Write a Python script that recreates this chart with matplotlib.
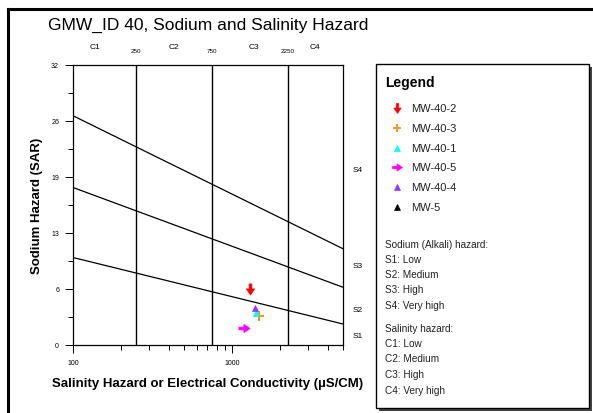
import numpy as np
import matplotlib
matplotlib.use("Agg")
import matplotlib.pyplot as plt
from matplotlib.path import Path
from matplotlib.markers import MarkerStyle
from matplotlib.transforms import Affine2D
from matplotlib.lines import Line2D
from matplotlib.patches import Rectangle

plt.rcParams['font.family'] = ['Liberation Sans', 'DejaVu Sans']

# hazard boundary lines (EC at ends, SAR at ends)
line_ec = [100, 5000]
s12_sar = [10.0, 2.4]
s23_sar = [18.0, 6.6]
s34_sar = [26.2, 11.0]

# salinity class boundaries
ec_bounds = [250, 750, 2250]
c_labels = ["C1", "C2", "C3", "C4"]
c_label_x = [138, 430, 1377, 3350]
s_labels = ["S1", "S2", "S3", "S4"]
s_label_y = [1.06, 4.03, 9.14, 20.0]

# samples
wells = ["MW-40-2", "MW-40-3", "MW-40-1", "MW-40-5", "MW-40-4", "MW-5"]
ec = [1300, 1490, 1410, 1186, 1400, np.nan]
sar = [6.4, 3.3, 3.7, 1.9, 4.2, np.nan]
colors = ["#ff0000", "#ff8c1a", "#00ffff", "#ff00ff", "#9933ff", "#000000"]

yticks = [0, 6.4, 12.8, 19.2, 25.6, 32]
ytick_labels = ["0", "6", "13", "19", "26", "32"]

hazard_text = ["Sodium (Alkali) hazard:", "S1: Low", "S2: Medium", "S3: High", "S4: Very high",
               "Salinity hazard:", "C1: Low", "C2: Medium", "C3: High", "C4: Very high"]

# custom arrow markers
arrow = Path([(-0.25, 1), (0.25, 1), (0.25, 0.1), (0.75, 0.1), (0, -1), (-0.75, 0.1), (-0.25, 0.1), (-0.25, 1)],
             [Path.MOVETO] + [Path.LINETO] * 6 + [Path.CLOSEPOLY])
down_arrow = MarkerStyle(arrow)
right_arrow = MarkerStyle(arrow, transform=Affine2D().rotate_deg(90))
markers = [down_arrow, "+", "^", right_arrow, "^", "^"]
msizes = [8, 7, 5, 8, 5, 6]

W, H = 593, 414
fig = plt.figure(figsize=(W / 100, H / 100), dpi=100)

def fx(px):
    return px / W

def fy(py):
    return 1 - py / H

# outer frame
fig.add_artist(Line2D([fx(8), fx(8)], [fy(10), 0], color="black", lw=2.2))
fig.add_artist(Line2D([fx(8), 1], [fy(10), fy(10)], color="black", lw=2.2))

fig.text(fx(48), fy(25), "GMW_ID 40, Sodium and Salinity Hazard", fontsize=12.5, va="center", ha="left")

ax = fig.add_axes([fx(73), fy(346), fx(343) - fx(73), fy(66) - fy(346)])
ax.set_xscale("log")
ax.set_xlim(100, 5000)
ax.set_ylim(0, 32)

ax.plot(line_ec, s12_sar, color="black", lw=0.9)
ax.plot(line_ec, s23_sar, color="black", lw=0.9)
ax.plot(line_ec, s34_sar, color="black", lw=0.9)
for b in ec_bounds:
    ax.axvline(b, color="black", lw=1.0)
    ax.text(b, 1.05, str(b), transform=ax.get_xaxis_transform(), fontsize=4.5, ha="center", va="center")
for lab, x in zip(c_labels, c_label_x):
    ax.text(x, 1.065, lab, transform=ax.get_xaxis_transform(), fontsize=6, ha="center", va="center")
for lab, y in zip(s_labels, s_label_y):
    ax.text(1.035, y, lab, transform=ax.get_yaxis_transform(), fontsize=6, ha="left", va="center", clip_on=False)

for i in range(len(wells)):
    ax.plot(ec[i], sar[i], linestyle="none", marker=markers[i], color=colors[i], ms=msizes[i], mew=1.5 if markers[i] == "+" else 0.5)

ax.set_yticks(yticks)
ax.set_yticklabels(ytick_labels)
ax.set_yticks(np.arange(3.2, 32, 6.4), minor=True)
ax.set_xticks([100, 1000])
ax.set_xticklabels(["100", "1000"])
ax.xaxis.set_minor_formatter(plt.NullFormatter())
ax.tick_params(which="major", length=6, width=0.7, labelsize=5, pad=4)
ax.tick_params(which="minor", length=3.5, width=0.7)
for sp in ax.spines.values():
    sp.set_linewidth(0.9)

ax.set_xlabel("Salinity Hazard or Electrical Conductivity (µS/CM)", fontsize=9.5, fontweight="bold", labelpad=8)
ax.set_ylabel("Sodium Hazard (SAR)", fontsize=9.5, fontweight="bold", labelpad=6)

# legend box with shadow
lx0, ly0, lx1, ly1 = 376, 65, 589, 409
fig.add_artist(Rectangle((fx(lx0 + 3), fy(ly1 + 3)), fx(lx1 - lx0), fy(ly0) - fy(ly1),
                         facecolor="#444444", edgecolor="none"))
fig.add_artist(Rectangle((fx(lx0), fy(ly1)), fx(lx1 - lx0), fy(ly0) - fy(ly1),
                         facecolor="white", edgecolor="black", lw=1.0))

fig.text(fx(385), fy(83), "Legend", fontsize=10, fontweight="bold", va="center", ha="left")
for i, w in enumerate(wells):
    y = 109.3 + i * 19.7
    fig.add_artist(Line2D([fx(397)], [fy(y)], linestyle="none", marker=markers[i], color=colors[i],
                          ms=msizes[i] - 1, mew=1.3 if markers[i] == "+" else 0.5))
    fig.text(fx(411), fy(y), w, fontsize=8, va="center", ha="left", color="#222222")

haz_y = [245, 260, 275, 290, 306, 329, 344, 359, 375, 391]
for t, y in zip(hazard_text, haz_y):
    fig.text(fx(385), fy(y), t, fontsize=7.2, va="center", ha="left", color="#222222")

fig.savefig("out.png", dpi=100)
